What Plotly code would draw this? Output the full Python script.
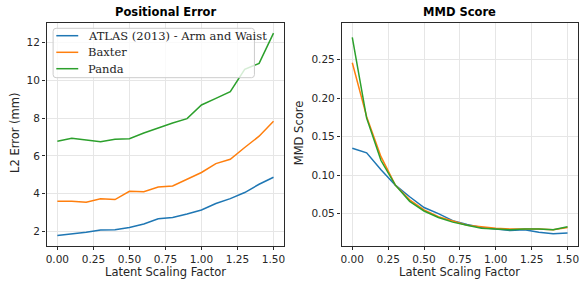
import plotly.graph_objects as go

x_vals = [0.0, 0.1, 0.2, 0.3, 0.4, 0.5, 0.6, 0.7, 0.8, 0.9, 1.0, 1.1, 1.2, 1.3, 1.4, 1.5]
series_names = ["ATLAS (2013) - Arm and Waist", "Baxter", "Panda"]
colors = ["#1f77b4", "#ff7f0e", "#2ca02c"]

l2_atlas = [1.79, 1.86, 1.96, 2.08, 2.09, 2.21, 2.40, 2.67, 2.74, 2.93, 3.14, 3.48, 3.74, 4.06, 4.50, 4.87]
l2_baxter = [3.60, 3.60, 3.55, 3.73, 3.69, 4.13, 4.10, 4.35, 4.41, 4.75, 5.12, 5.59, 5.82, 6.44, 7.04, 7.83]
l2_panda = [6.77, 6.93, 6.84, 6.74, 6.88, 6.91, 7.21, 7.48, 7.74, 7.97, 8.69, 9.04, 9.39, 10.57, 10.89, 12.49]

mmd_atlas = [0.135, 0.129, 0.107, 0.087, 0.072, 0.058, 0.050, 0.041, 0.036, 0.032, 0.030, 0.028, 0.029, 0.026, 0.024, 0.025]
mmd_baxter = [0.246, 0.176, 0.124, 0.087, 0.068, 0.055, 0.046, 0.040, 0.035, 0.033, 0.031, 0.030, 0.030, 0.030, 0.029, 0.032]
mmd_panda = [0.279, 0.174, 0.119, 0.087, 0.066, 0.0535, 0.045, 0.039, 0.035, 0.031, 0.030, 0.029, 0.030, 0.030, 0.029, 0.033]

x_ticks = [0.0, 0.25, 0.5, 0.75, 1.0, 1.25, 1.5]
x_tick_text = ["0.00", "0.25", "0.50", "0.75", "1.00", "1.25", "1.50"]
l2_ticks = [2, 4, 6, 8, 10, 12]
mmd_ticks = [0.05, 0.10, 0.15, 0.20, 0.25]
mmd_tick_text = ["0.05", "0.10", "0.15", "0.20", "0.25"]

W, H = 581, 283
fig = go.Figure()

l2_series = [l2_atlas, l2_baxter, l2_panda]
mmd_series = [mmd_atlas, mmd_baxter, mmd_panda]

for name, c, ys in zip(series_names, colors, l2_series):
    fig.add_trace(go.Scatter(x=x_vals, y=ys, mode="lines", name=name,
                             line=dict(color=c, width=1.5), xaxis="x", yaxis="y",
                             showlegend=False))
for name, c, ys in zip(series_names, colors, mmd_series):
    fig.add_trace(go.Scatter(x=x_vals, y=ys, mode="lines", name=name,
                             line=dict(color=c, width=1.5), xaxis="x2", yaxis="y2",
                             showlegend=False))

ydom = [(H - 245.7) / H, (H - 22.7) / H]
common_axis = dict(showline=True, mirror=True, linecolor="#2a2a2a", linewidth=1.2,
                   ticks="outside", ticklen=3.5, tickwidth=1, tickcolor="#2a2a2a",
                   showgrid=True, gridcolor="#e6e6e6", gridwidth=0.8, zeroline=False,
                   tickfont=dict(family="DejaVu Sans", size=10.5, color="#262626"))

def px(xp):
    return xp / W

def py(yp):
    return 1 - yp / H

# manual legend (matplotlib-style compact legend)
lx0, lx1, ly0, ly1, r = 52.3, 254.3, 28.3, 77.7, 3
legend_path = (f"M {px(lx0 + r)} {py(ly0)} L {px(lx1 - r)} {py(ly0)} "
               f"Q {px(lx1)} {py(ly0)} {px(lx1)} {py(ly0 + r)} L {px(lx1)} {py(ly1 - r)} "
               f"Q {px(lx1)} {py(ly1)} {px(lx1 - r)} {py(ly1)} L {px(lx0 + r)} {py(ly1)} "
               f"Q {px(lx0)} {py(ly1)} {px(lx0)} {py(ly1 - r)} L {px(lx0)} {py(ly0 + r)} "
               f"Q {px(lx0)} {py(ly0)} {px(lx0 + r)} {py(ly0)} Z")
shapes = [dict(type="path", path=legend_path, xref="paper", yref="paper",
               fillcolor="rgba(255,255,255,0.8)", line=dict(color="#cccccc", width=1), layer="above")]
annotations = []
row_y = [35.7, 52.3, 68.7]
for name, c, ry in zip(series_names, colors, row_y):
    shapes.append(dict(type="line", xref="paper", yref="paper", x0=px(55.5), x1=px(77.5),
                       y0=py(ry), y1=py(ry), line=dict(color=c, width=1.5), layer="above"))
    annotations.append(dict(text=name, x=px(85.0), y=py(ry), xref="paper", yref="paper",
                            showarrow=False, xanchor="left", yanchor="middle",
                            font=dict(family="DejaVu Serif", size=11.5, color="#262626")))

annotations += [
    dict(text="<b>Positional Error</b>", x=px(165.5), y=py(12.3), xref="paper", yref="paper",
         showarrow=False, font=dict(family="DejaVu Sans", size=11.5, color="black"),
         xanchor="center", yanchor="middle"),
    dict(text="<b>MMD Score</b>", x=px(460.5), y=py(12.3), xref="paper", yref="paper",
         showarrow=False, font=dict(family="DejaVu Sans", size=11.5, color="black"),
         xanchor="center", yanchor="middle"),
    dict(text="Latent Scaling Factor", x=px(165.5), y=py(271.7), xref="paper", yref="paper",
         showarrow=False, font=dict(family="DejaVu Sans", size=11.5, color="#262626"),
         xanchor="center", yanchor="middle"),
    dict(text="Latent Scaling Factor", x=px(460.5), y=py(271.7), xref="paper", yref="paper",
         showarrow=False, font=dict(family="DejaVu Sans", size=11.5, color="#262626"),
         xanchor="center", yanchor="middle"),
    dict(text="L2 Error (mm)", x=px(14), y=py(133), xref="paper", yref="paper",
         showarrow=False, textangle=-90, font=dict(family="DejaVu Sans", size=11.5, color="#262626"),
         xanchor="center", yanchor="middle"),
    dict(text="MMD Score", x=px(299.3), y=py(133), xref="paper", yref="paper",
         showarrow=False, textangle=-90, font=dict(family="DejaVu Sans", size=11.5, color="#262626"),
         xanchor="center", yanchor="middle"),
]

fig.update_layout(
    width=W, height=H,
    margin=dict(l=0, r=0, t=0, b=0),
    paper_bgcolor="white", plot_bgcolor="white",
    showlegend=False,
    xaxis=dict(domain=[45.7 / W, 284.3 / W], range=[-0.075, 1.575],
               tickvals=x_ticks, ticktext=x_tick_text, anchor="y", **common_axis),
    yaxis=dict(domain=ydom, range=[1.25, 13.04], tickvals=l2_ticks, anchor="x", **common_axis),
    xaxis2=dict(domain=[341.7 / W, 579.3 / W], range=[-0.075, 1.575],
                tickvals=x_ticks, ticktext=x_tick_text, anchor="y2", **common_axis),
    yaxis2=dict(domain=ydom, range=[0.0084, 0.298], tickvals=mmd_ticks,
                ticktext=mmd_tick_text, anchor="x2", **common_axis),
    shapes=shapes,
    annotations=annotations,
)

fig.write_html("out.html", config={"displayModeBar": False},
               post_script="document.body.style.margin='0';document.body.style.overflow='hidden';")
